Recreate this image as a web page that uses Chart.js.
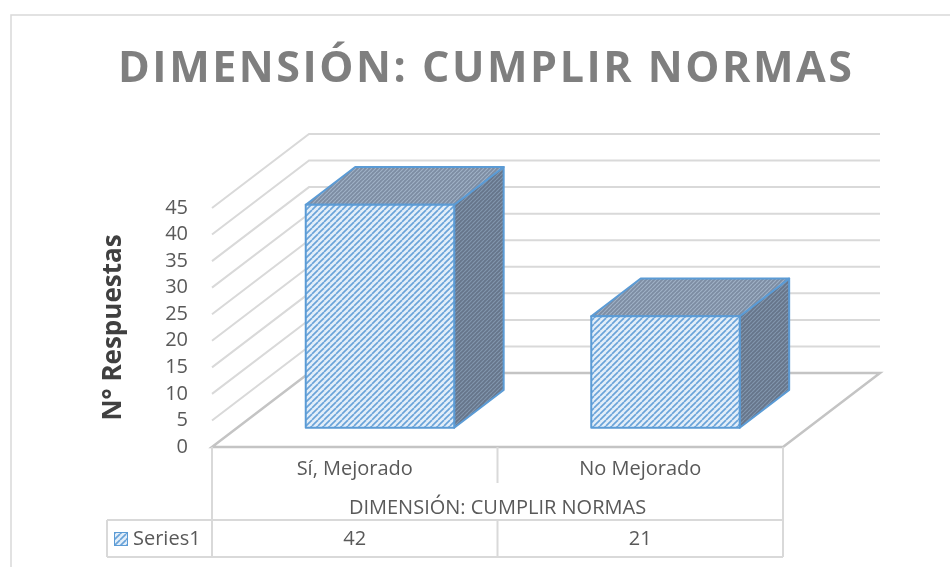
<!DOCTYPE html>
<html>
<head>
<meta charset="utf-8">
<script src="https://cdn.jsdelivr.net/npm/chart.js@4.4.0/dist/chart.umd.min.js"></script>
<style>
  body { margin: 0; background: #fff; }
  canvas { display: block; }
</style>
</head>
<body>
<canvas id="chart" width="950" height="567"></canvas>
<script>
const chartTitle = 'DIMENSIÓN: CUMPLIR NORMAS';
const groupLabel = 'DIMENSIÓN: CUMPLIR NORMAS';
const yTitle = 'N° Respuestas';
const categories = ['Sí, Mejorado', 'No Mejorado'];
const seriesName = 'Series1';
const values = [42, 21];
const yTicks = [0, 5, 10, 15, 20, 25, 30, 35, 40, 45];

// oblique 3d look: how far the back wall sits from the front plane
const DEPTH_X = 97, DEPTH_Y = -74;
const BAR_FRONT = 0.26, BAR_BACK = 0.77;
const FONT = '"Open Sans", "DejaVu Sans", sans-serif';
const GRID = '#d9d9d9';
const TEXT = '#595959';

function makePattern(size, bg, fg, lw) {
  const c = document.createElement('canvas');
  c.width = size; c.height = size;
  const g = c.getContext('2d');
  g.fillStyle = bg;
  g.fillRect(0, 0, size, size);
  g.strokeStyle = fg;
  g.lineWidth = lw;
  [0, -size, size].forEach(ox => {
    g.beginPath();
    g.moveTo(ox, size);
    g.lineTo(ox + size, 0);
    g.stroke();
  });
  return g.createPattern(c, 'repeat');
}

const ctx0 = document.getElementById('chart').getContext('2d');
const frontFill = makePattern(6, '#e3eef9', '#6aa3d9', 1.7);
const topFill = makePattern(4, '#7d8ca2', '#9fb1c6', 1.2);
const sideFill = makePattern(4, '#66758a', '#8296ae', 1.2);

function poly(ctx, pts, fill) {
  ctx.beginPath();
  ctx.moveTo(pts[0][0], pts[0][1]);
  pts.slice(1).forEach(p => ctx.lineTo(p[0], p[1]));
  ctx.closePath();
  ctx.fillStyle = fill;
  ctx.fill();
  ctx.stroke();
}

const walls = {
  id: 'walls',
  beforeDatasetsDraw(chart) {
    const {ctx, chartArea: a, scales: {y}} = chart;
    ctx.save();
    ctx.lineWidth = 2;
    ctx.strokeStyle = GRID;
    yTicks.forEach(v => {
      if (v === 0) return;
      const py = y.getPixelForValue(v);
      ctx.beginPath();
      ctx.moveTo(a.left, py);
      ctx.lineTo(a.left + DEPTH_X, py + DEPTH_Y);
      ctx.lineTo(a.right + DEPTH_X, py + DEPTH_Y);
      ctx.stroke();
    });
    const b = y.getPixelForValue(0);
    ctx.strokeStyle = '#c4c4c4';
    ctx.lineWidth = 2.5;
    ctx.beginPath();
    ctx.moveTo(a.left, b);
    ctx.lineTo(a.right, b);
    ctx.lineTo(a.right + DEPTH_X, b + DEPTH_Y);
    ctx.lineTo(a.left + DEPTH_X, b + DEPTH_Y);
    ctx.closePath();
    ctx.stroke();
    ctx.restore();
  }
};

const bars3d = {
  id: 'bars3d',
  afterDatasetsDraw(chart) {
    const {ctx} = chart;
    const meta = chart.getDatasetMeta(0);
    const fx = BAR_FRONT * DEPTH_X, fy = BAR_FRONT * DEPTH_Y;
    const bx = BAR_BACK * DEPTH_X, by = BAR_BACK * DEPTH_Y;
    ctx.save();
    ctx.strokeStyle = '#5b9bd5';
    ctx.lineWidth = 2;
    ctx.lineJoin = 'round';
    meta.data.forEach(el => {
      const {x, y, base, width} = el.getProps(['x', 'y', 'base', 'width'], true);
      const l = x - width / 2, r = x + width / 2;
      poly(ctx, [[r + fx, y + fy], [r + bx, y + by], [r + bx, base + by], [r + fx, base + fy]], sideFill);
      poly(ctx, [[l + fx, y + fy], [l + bx, y + by], [r + bx, y + by], [r + fx, y + fy]], topFill);
      poly(ctx, [[l + fx, y + fy], [r + fx, y + fy], [r + fx, base + fy], [l + fx, base + fy]], frontFill);
    });
    ctx.restore();
  }
};

const tableAndTitle = {
  id: 'tableAndTitle',
  afterDraw(chart) {
    const {ctx, chartArea: a, scales: {x}} = chart;
    const b = a.bottom;
    const mid = (x.getPixelForValue(0) + x.getPixelForValue(1)) / 2;
    const legLeft = 107;
    ctx.save();

    // outer chart frame
    ctx.strokeStyle = GRID;
    ctx.lineWidth = 1.5;
    ctx.beginPath();
    ctx.moveTo(11, 567);
    ctx.lineTo(11, 15);
    ctx.lineTo(950, 15);
    ctx.stroke();

    // data table grid
    ctx.lineWidth = 2;
    ctx.beginPath();
    ctx.moveTo(a.left, b); ctx.lineTo(a.left, b + 110);
    ctx.moveTo(a.right, b); ctx.lineTo(a.right, b + 110);
    ctx.moveTo(mid, b); ctx.lineTo(mid, b + 36);
    ctx.moveTo(mid, b + 73); ctx.lineTo(mid, b + 110);
    ctx.moveTo(legLeft, b + 73); ctx.lineTo(a.right, b + 73);
    ctx.moveTo(legLeft, b + 110); ctx.lineTo(a.right, b + 110);
    ctx.moveTo(legLeft, b + 73); ctx.lineTo(legLeft, b + 110);
    ctx.stroke();

    ctx.fillStyle = TEXT;
    ctx.font = '20px ' + FONT;
    ctx.textAlign = 'center';
    ctx.textBaseline = 'middle';
    categories.forEach((c, i) => ctx.fillText(c, x.getPixelForValue(i), b + 22));
    ctx.fillText(groupLabel, (a.left + a.right) / 2, b + 61);
    values.forEach((v, i) => ctx.fillText(String(v), x.getPixelForValue(i), b + 92));
    ctx.textAlign = 'left';
    ctx.fillText(seriesName, 133, b + 92);

    // legend key
    ctx.fillStyle = frontFill;
    ctx.fillRect(114, b + 85, 14, 14);
    ctx.strokeStyle = '#5b9bd5';
    ctx.lineWidth = 1;
    ctx.strokeRect(114.5, b + 85.5, 13, 13);

    // title with wide letter spacing
    ctx.font = 'bold 43px ' + FONT;
    ctx.fillStyle = '#7f7f7f';
    ctx.textBaseline = 'alphabetic';
    const w0 = ctx.measureText(chartTitle).width;
    const target = 734;
    const sp = (target - w0) / (chartTitle.length - 1);
    ctx.letterSpacing = sp + 'px';
    ctx.textAlign = 'left';
    ctx.fillText(chartTitle, 485 - target / 2, 82);
    ctx.restore();
  }
};

new Chart(ctx0, {
  type: 'bar',
  data: {
    labels: categories,
    datasets: [{
      label: seriesName,
      data: values,
      backgroundColor: 'rgba(0,0,0,0)',
      borderWidth: 0,
      categoryPercentage: 0.52,
      barPercentage: 1
    }]
  },
  options: {
    responsive: false,
    animation: false,
    devicePixelRatio: 1,
    layout: { padding: { left: 0, right: 167, top: 208, bottom: 120 } },
    plugins: {
      legend: { display: false },
      tooltip: { enabled: false },
      title: { display: false }
    },
    scales: {
      x: { display: false },
      y: {
        min: 0,
        max: 45,
        afterBuildTicks(scale) { scale.ticks = yTicks.map(v => ({value: v})); },
        ticks: { autoSkip: false, color: TEXT, font: { family: FONT, size: 20 }, padding: 24 },
        grid: { display: false, drawTicks: false },
        border: { display: false },
        title: {
          display: true,
          text: yTitle,
          color: '#404040',
          font: { family: FONT, size: 26, weight: 'bold' },
          padding: { top: 98, bottom: 0 }
        },
        afterFit(scale) { scale.width = 212; }
      }
    }
  },
  plugins: [walls, bars3d, tableAndTitle]
});
</script>
</body>
</html>
